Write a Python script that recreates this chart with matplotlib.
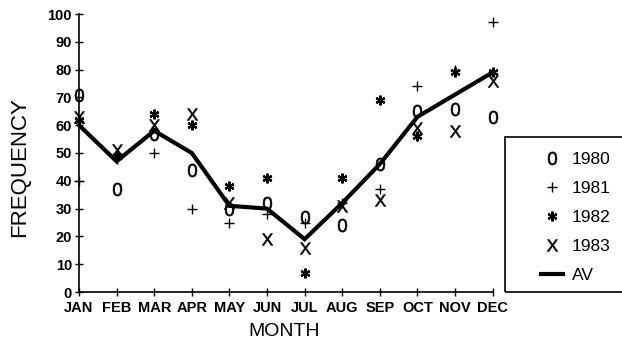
import matplotlib
matplotlib.use("Agg")
import matplotlib.pyplot as plt
from matplotlib.patches import Rectangle

plt.rcParams['font.family'] = ['Liberation Sans', 'DejaVu Sans']
plt.rcParams['mathtext.fontset'] = 'custom'
plt.rcParams['mathtext.sf'] = 'Liberation Sans'

months = ['JAN', 'FEB', 'MAR', 'APR', 'MAY', 'JUN', 'JUL', 'AUG', 'SEP', 'OCT', 'NOV', 'DEC']
y1980 = [71, 37, 57, 44, 30, 32, 27, 24, 46, 65, 66, 63]
y1981 = [40, 48, 50, 30, 25, 28, 25, 32, 37, 74, 80, 97]
y1982 = [62, 49, 64, 60, 38, 41, 7, 41, 69, 56, 79, 79]
y1983 = [63, 51, 60, 64, 32, 19, 16, 31, 33, 59, 58, 76]
av = [60, 47, 58, 50, 31, 30, 19, 32, 46, 63, 71, 79]
yticks = list(range(0, 101, 10))

W, H = 622, 344
fig = plt.figure(figsize=(W / 100, H / 100), dpi=100)
ax = fig.add_axes([79 / W, 1 - 292 / H, (492.6 - 79) / W, (292 - 14) / H])

x = list(range(len(months)))
ax.plot(x, y1980, ls='none', marker=r'$\mathsf{0}$', ms=9.5, mew=0.4, color='black', label='1980', clip_on=False)
ax.plot(x, y1981, ls='none', marker='+', ms=7, mew=1.0, color='black', label='1981', clip_on=False)
ax.plot(x, y1982, ls='none', marker=(6, 2, 0), ms=7, mew=1.6, color='black', label='1982', clip_on=False)
ax.plot(x, y1983, ls='none', marker=r'$\mathsf{X}$', ms=8.5, mew=0.4, color='black', label='1983', clip_on=False)
ax.plot(x, av, color='black', lw=3, solid_joinstyle='miter', label='AV', clip_on=False)

ax.set_xlim(0, 11)
ax.set_ylim(0, 100)
ax.set_xticks(x)
ax.set_xticklabels(months)
ax.set_yticks(yticks)
for s in ['top', 'right']:
    ax.spines[s].set_visible(False)
for s in ['left', 'bottom']:
    ax.spines[s].set_linewidth(1.2)
ax.tick_params(direction='inout', length=6, width=1, labelsize=10.5)
ax.tick_params(axis='x', pad=3.5)
ax.tick_params(axis='y', pad=2)
for lab in ax.get_xticklabels() + ax.get_yticklabels():
    lab.set_fontweight('bold')
ax.set_xlabel('MONTH', fontsize=14)
ax.set_ylabel('FREQUENCY', fontsize=16)
ax.xaxis.set_label_coords(0.497, -0.112)
ax.yaxis.set_label_coords(-0.118, 0.45)

leg = ax.legend(loc='upper left', bbox_to_anchor=(532 / W, 1 - 143 / H),
                bbox_transform=fig.transFigure, frameon=False,
                prop={'size': 12.5}, handlelength=1.3,
                handletextpad=0.5, labelspacing=0.8, borderpad=0)

fig.patches.append(Rectangle((505 / W, 1 - 292 / H), 140 / W, 155 / H,
                             transform=fig.transFigure, fill=False,
                             edgecolor='black', lw=1.2))

fig.savefig('out.png', dpi=100)
